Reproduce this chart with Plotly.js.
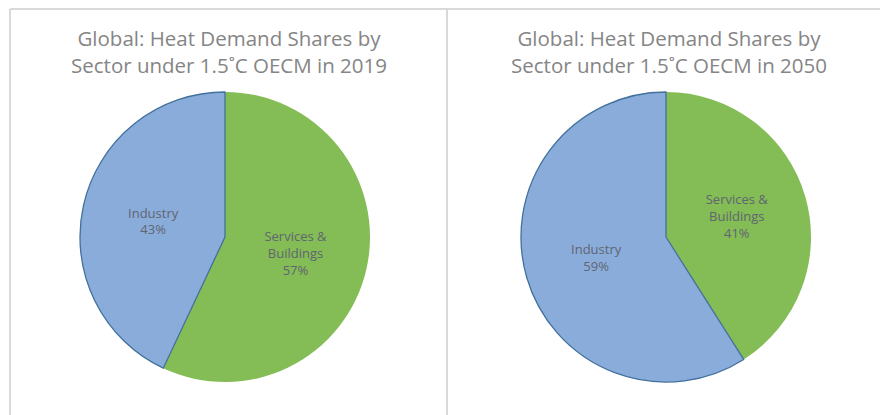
<!DOCTYPE html>
<html>
<head>
<meta charset="utf-8">
<script src="https://cdn.plot.ly/plotly-3.0.1.min.js"></script>
<style>html,body{margin:0;padding:0;background:#fff;}#chart{width:880px;height:415px;}</style>
</head>
<body>
<div id="chart"></div>
<script>
const sectors = ["Services &<br>Buildings", "Industry"];
const shares2019 = [57, 43];
const shares2050 = [41, 59];
const titles = [
  "Global: Heat Demand Shares by<br>Sector under 1.5˚C OECM in 2019",
  "Global: Heat Demand Shares by<br>Sector under 1.5˚C OECM in 2050"
];
const sliceColors = ["#84BC56", "#8AACDB"];
const edgeColors = ["#84BC56", "#41719C"];

function pie(values, domainX) {
  return {
    type: "pie",
    labels: sectors,
    values: values,
    sort: false,
    direction: "clockwise",
    rotation: 0,
    domain: {x: domainX, y: [0.0795, 0.7783]},
    marker: {colors: sliceColors, line: {color: edgeColors, width: [0, 1.3]}},
    texttemplate: "%{label}<br>%{value}%",
    textposition: "inside",
    insidetextorientation: "horizontal",
    textfont: {family: "Open Sans, sans-serif", size: 13, color: "#5f6670"},
    hoverinfo: "none",
    showlegend: false
  };
}

const data = [
  pie(shares2019, [80/880, 370/880]),
  pie(shares2050, [521/880, 811/880])
];

const titleFont = {family: "Open Sans, sans-serif", size: 20.5, color: "#858585"};
const layout = {
  width: 880, height: 415,
  margin: {l: 0, r: 0, t: 0, b: 0},
  paper_bgcolor: "#ffffff",
  showlegend: false,
  annotations: [
    {text: titles[0], x: 229/880, y: 1 - 51/415, xref: "paper", yref: "paper", showarrow: false,
     xanchor: "center", yanchor: "middle", font: titleFont},
    {text: titles[1], x: 669/880, y: 1 - 51/415, xref: "paper", yref: "paper", showarrow: false,
     xanchor: "center", yanchor: "middle", font: titleFont}
  ],
  shapes: [
    {type: "line", xref: "paper", yref: "paper", x0: 10/880, x1: 880/880, y0: 1 - 9/415, y1: 1 - 9/415, line: {color: "#d9d9d9", width: 2}},
    {type: "line", xref: "paper", yref: "paper", x0: 10/880, x1: 10/880, y0: 0, y1: 1 - 9/415, line: {color: "#d9d9d9", width: 2}},
    {type: "line", xref: "paper", yref: "paper", x0: 447/880, x1: 447/880, y0: 0, y1: 1 - 9/415, line: {color: "#d9d9d9", width: 2}}
  ]
};

Plotly.newPlot("chart", data, layout, {displayModeBar: false, staticPlot: true});
</script>
</body>
</html>
